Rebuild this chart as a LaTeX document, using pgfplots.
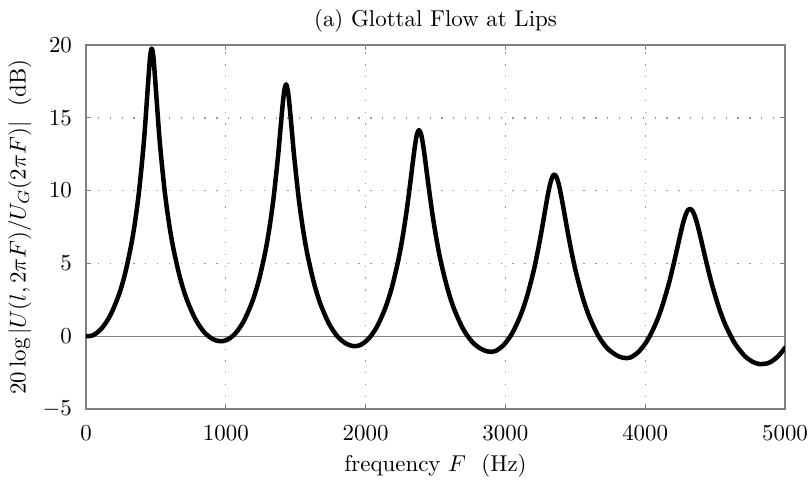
\documentclass[border=0pt]{standalone}
\usepackage{fontspec}
\usepackage{pgfplots}
\pgfplotsset{compat=1.18}
\begin{document}
\begin{tikzpicture}
\useasboundingbox (0,0) rectangle (352.17bp,208.70bp);
\begin{axis}[
  at={(37.39bp,30.87bp)}, anchor=south west,
  scale only axis, width=303.91bp, height=158.26bp,
  xmin=0, xmax=5000, ymin=-5, ymax=20,
  xtick={0,1000,...,5000}, ytick={-5,0,...,20},
  /pgf/number format/1000 sep={},
  scaled x ticks=false,
  grid=major,
  major grid style={black!40, line width=0.6bp, dash pattern=on 0.55bp off 4.6bp},
  axis line style={black!50, line width=0.5bp},
  tick style={black!50, line width=0.45bp},
  major tick length=2.2bp,
  tick align=inside,
  xticklabel style={yshift=-3.9bp},
  yticklabel style={xshift=-2.6bp},
  every axis title shift=0pt,
  title={(a) Glottal Flow at Lips},
  title style={at={(axis description cs:0.5,1.0522)}, anchor=base},
  xlabel={frequency $F$\ \ (Hz)},
  xlabel style={at={(axis description cs:0.5,-0.1703)}, anchor=base},
  ylabel={$20\log|U(l,2\pi F)/U_G(2\pi F)|$\ \ (dB)},
  ylabel style={at={(axis description cs:-0.0944,0.5)}, anchor=center},
]
\addplot[black!50, line width=0.5bp, forget plot] coordinates {(0,0) (5000,0)};
\addplot[black, line width=1.96bp, smooth, line join=round, line cap=round] coordinates {
(0,0) (51,0.067) (111,0.527) (171,1.386) (231,2.731) (276,4.159) (320,6.100) (350,7.803)
(380,9.993) (410,12.913) (425,14.743) (440,16.813) (455,18.812) (462.5,19.500) (470,19.756)
(477.8,19.496) (485.5,18.803) (501.1,16.795) (516.6,14.716) (532.1,12.876) (563.2,9.938)
(594.3,7.730) (625.4,6.008) (672.0,4.040) (718.6,2.584) (780.7,1.203) (842.8,0.307)
(905.0,-0.190) (958,-0.345)
(1009.5,-0.251) (1069.7,0.207) (1129.9,1.058) (1190.1,2.388) (1235.3,3.796) (1280.4,5.694)
(1310.6,7.341) (1340.7,9.419) (1370.8,12.081) (1385.8,13.650) (1400.9,15.292) (1416.0,16.703)
(1431,17.299) (1446.3,16.694) (1461.6,15.274) (1476.9,13.623) (1492.2,12.044) (1522.9,9.364)
(1553.5,7.268) (1584.1,5.603) (1630.0,3.678) (1676.0,2.242) (1737.2,0.876) (1798.4,-0.012)
(1859.7,-0.506) (1912,-0.677)
(1963.1,-0.605) (2023.0,-0.155) (2082.8,0.679) (2142.6,1.976) (2187.5,3.337) (2232.4,5.141)
(2262.3,6.668) (2292.2,8.525) (2322.2,10.729) (2337.1,11.905) (2352.1,13.009) (2367.0,13.844)
(2382,14.160) (2397.8,13.835) (2413.6,12.991) (2429.4,11.877) (2445.2,10.692) (2476.7,8.470)
(2508.3,6.595) (2539.9,5.049) (2587.3,3.217) (2634.6,1.829) (2697.8,0.495) (2761.0,-0.376)
(2824.1,-0.863) (2878,-1.058)
(2929.3,-1.019) (2989.4,-0.583) (3049.5,0.222) (3109.6,1.462) (3154.7,2.742) (3199.8,4.395)
(3229.8,5.743) (3259.9,7.294) (3289.9,8.969) (3304.9,9.772) (3320.0,10.460) (3335.0,10.934)
(3350,11.103) (3365.7,10.925) (3381.4,10.442) (3397.1,9.744) (3412.8,8.932) (3444.2,7.239)
(3475.6,5.669) (3507.0,4.303) (3554.0,2.622) (3601.1,1.315) (3663.9,0.038) (3726.7,-0.804)
(3789.5,-1.277) (3843,-1.484)
(3894.8,-1.461) (3955.6,-1.043) (4016.3,-0.273) (4077.0,0.900) (4122.6,2.088) (4168.2,3.583)
(4198.5,4.753) (4228.9,6.033) (4259.3,7.315) (4274.4,7.886) (4289.6,8.349) (4304.8,8.654)
(4320,8.757) (4335.9,8.644) (4351.9,8.330) (4367.8,7.858) (4383.8,7.278) (4415.7,5.977)
(4447.6,4.679) (4479.5,3.489) (4527.3,1.967) (4575.1,0.750) (4638.9,-0.460) (4702.7,-1.267)
(4734.6,-1.542) (4766.5,-1.749) (4798.4,-1.873) (4821,-1.919)
(4874.2,-1.861) (4905.4,-1.719) (4936.6,-1.497) (4967.8,-1.195) (5000,-0.796)
};
\end{axis}
\end{tikzpicture}
\end{document}
